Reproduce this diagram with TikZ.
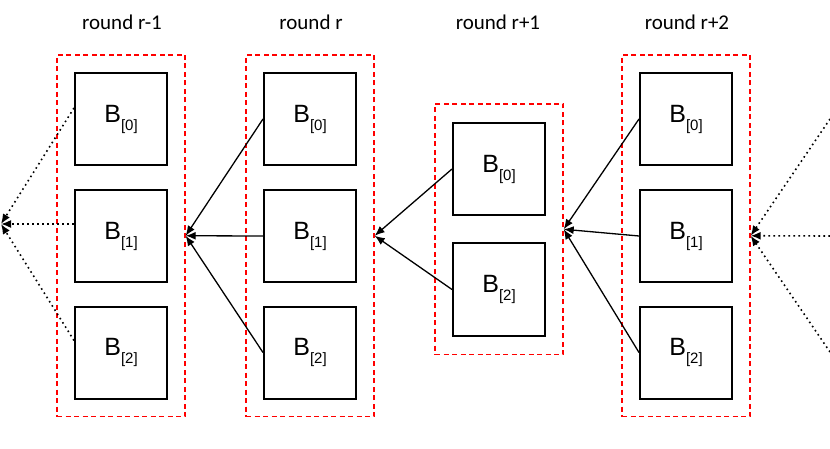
\documentclass[tikz,border=0pt]{standalone}
\usepackage{fontspec}
\setmainfont{Liberation Sans}
\newfontfamily\roundfont{Carlito}
\usetikzlibrary{positioning, calc, fit, arrows.meta}

\newcommand{\blocklabel}[1]{B\raisebox{-8pt}{\fontsize{15}{15}\selectfont[#1]}}

\begin{document}
\begin{tikzpicture}[x=1pt, y=-1pt,
  block/.style={draw, line width=2pt, minimum size=92pt, inner sep=0pt, anchor=center,
    font=\fontsize{25}{25}\selectfont},
  group/.style={draw=red, line width=1.4pt, dash pattern=on 5pt off 3.5pt, inner xsep=17pt, inner ysep=17pt},
  title/.style={font=\roundfont\fontsize{21}{21}\selectfont, anchor=center},
  tip/.style={-{Latex[length=10pt, width=8pt]}},
  dots/.style={line width=1.6pt, dash pattern=on 1.6pt off 3.4pt}]
  \useasboundingbox (0,0) rectangle (830,449);

  \node[title] (T1) at (122,22) {round r-1};
  \node[title] (T2) at (311,22) {round r};
  \node[title] (T3) at (498,22) {round r+1};
  \node[title] (T4) at (687,22) {round r+2};

  \node[block] (A0) at (121,119) {\blocklabel{0}};
  \node[block] (A1) at (121,236) {\blocklabel{1}};
  \node[block] (A2) at (121,352.5) {\blocklabel{2}};

  \node[block] (B0) at (310,119) {\blocklabel{0}};
  \node[block] (B1) at (310,236) {\blocklabel{1}};
  \node[block] (B2) at (310,352.5) {\blocklabel{2}};

  \node[block] (C0) at (499,169) {\blocklabel{0}};
  \node[block] (C2) at (499,289.5) {\blocklabel{2}};

  \node[block] (D0) at (686,119) {\blocklabel{0}};
  \node[block] (D1) at (686,236) {\blocklabel{1}};
  \node[block] (D2) at (686,352.5) {\blocklabel{2}};

  \node[group, fit=(A0) (A2)] (G1) {};
  \node[group, fit=(B0) (B2)] (G2) {};
  \node[group, inner ysep=18pt, fit=(C0) (C2)] (G3) {};
  \node[group, fit=(D0) (D2)] (G4) {};

  \coordinate (L) at (1,224);
  \coordinate (R0) at (830,119);
  \coordinate (R1) at (830,236);
  \coordinate (R2) at (830,352);

  \path[draw, line width=1.3pt, tip] (B0.west) -- (G1.east);
  \path[draw, line width=1.3pt, tip] (B1.west) -- (G1.east);
  \path[draw, line width=1.3pt, tip] (B2.west) -- (G1.east);

  \path[draw, line width=1.3pt, tip] (C0.west) -- (G2.east);
  \path[draw, line width=1.3pt, tip] (C2.west) -- (G2.east);

  \path[draw, line width=1.3pt, tip] (D0.west) -- (G3.east);
  \path[draw, line width=1.3pt, tip] (D1.west) -- (G3.east);
  \path[draw, line width=1.3pt, tip] (D2.west) -- (G3.east);

  \path[draw, dots, tip] ([yshift=11pt]A0.west) -- (L);
  \path[draw, dots, tip] ([yshift=12pt]A1.west) -- (L);
  \path[draw, dots, tip] ([yshift=12pt]A2.west) -- (L);

  \path[draw, dots, tip] (R0) -- (G4.east);
  \path[draw, dots, tip] (R1) -- (G4.east);
  \path[draw, dots, tip] (R2) -- (G4.east);
\end{tikzpicture}
\end{document}
